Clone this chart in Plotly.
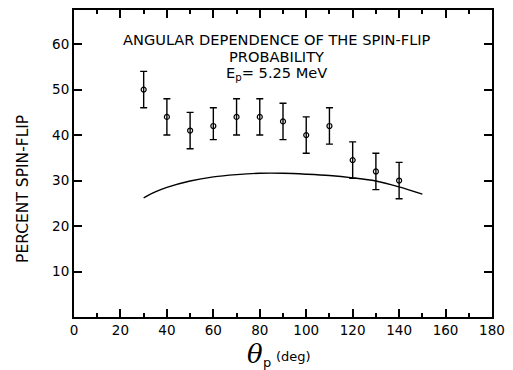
import plotly.graph_objects as go

# Data
angles = [30, 40, 50, 60, 70, 80, 90, 100, 110, 120, 130, 140]
spin_flip = [50.0, 44.0, 41.0, 42.0, 44.0, 44.0, 43.0, 40.0, 42.0, 34.5, 32.0, 30.0]
err_plus = [4.0, 4.0, 4.0, 4.0, 4.0, 4.0, 4.0, 4.0, 4.0, 4.0, 4.0, 4.0]
err_minus = [4.0, 4.0, 4.0, 3.0, 4.0, 4.0, 4.0, 4.0, 4.0, 4.0, 4.0, 4.0]

curve_x = [30, 35, 40, 50, 60, 70, 80, 90, 100, 110, 120, 130, 140, 150]
curve_y = [26.2, 27.5, 28.5, 29.9, 30.8, 31.3, 31.6, 31.6, 31.4, 31.1, 30.6, 29.9, 28.6, 27.0]

x_ticks = [0, 20, 40, 60, 80, 100, 120, 140, 160, 180]
y_ticks = [10, 20, 30, 40, 50, 60]

FONT = "DejaVu Sans"

fig = go.Figure()
fig.add_trace(go.Scatter(
    x=curve_x, y=curve_y, mode="lines", line=dict(color="black", width=1.4, shape="spline"),
    showlegend=False, hoverinfo="skip"))
fig.add_trace(go.Scatter(
    x=angles, y=spin_flip, mode="markers",
    marker=dict(symbol="circle-open", size=5, color="black", line=dict(width=1.2, color="black")),
    error_y=dict(type="data", symmetric=False, array=err_plus, arrayminus=err_minus,
                 color="black", thickness=1.4, width=3.5),
    showlegend=False))

W, H = 513, 370
l, r, t, b = 74, 20, 8, 53

fig.update_layout(
    width=W, height=H,
    margin=dict(l=l, r=r, t=t, b=b),
    paper_bgcolor="white", plot_bgcolor="white",
    font=dict(family=FONT, color="black", size=13),
    xaxis=dict(range=[0, 180], tickvals=x_ticks, ticks="inside", ticklen=8, tickwidth=1.5,
               tickcolor="black", showline=True, linewidth=2, linecolor="black",
               mirror="allticks", showgrid=False, zeroline=False,
               minor=dict(dtick=10, ticks="inside", ticklen=4, tickwidth=1.5, tickcolor="black", showgrid=False),
               tickfont=dict(size=13.5, family=FONT)),
    yaxis=dict(range=[0, 67.5], tickvals=y_ticks, ticks="inside", ticklen=8, tickwidth=1.5,
               tickcolor="black", showline=True, linewidth=2, linecolor="black",
               mirror="allticks", showgrid=False, zeroline=False,
               tickfont=dict(size=13.5, family=FONT)),
)

def px(xp):
    return (xp - l) / (W - l - r)
def py(yp):
    return (H - b - yp) / (H - t - b)

def A(xp, yp, text, size, **kw):
    d = dict(x=px(xp), y=py(yp), xref="paper", yref="paper", text=text, showarrow=False,
             xanchor="center", yanchor="middle", font=dict(size=size, family=kw.pop("family", FONT)))
    d.update(kw)
    return d

ann = [
    A(277, 38, "ANGULAR DEPENDENCE OF THE SPIN-FLIP", 14.6),
    A(277, 55, "PROBABILITY", 14.6),
    A(277, 72, "E<sub>p</sub>= 5.25 MeV", 14.6),
    A(23, 188, "PERCENT SPIN-FLIP", 15.5, textangle=-90),
    A(255, 354, "<i>θ</i>", 26, family="DejaVu Serif"),
    A(267, 363, "p", 13),
    A(294, 357, "(deg)", 13),
]
fig.update_layout(annotations=ann)

fig.write_html("out.html")
